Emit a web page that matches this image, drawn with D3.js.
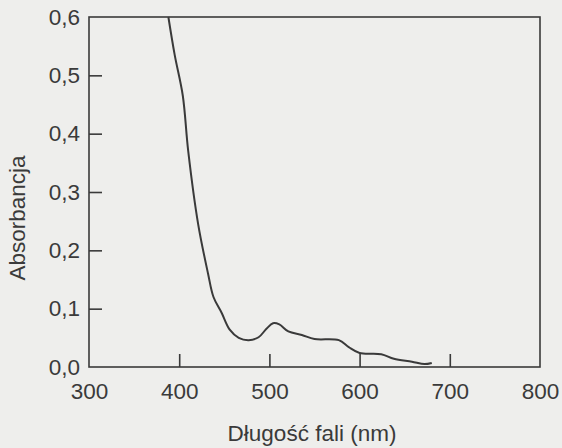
<!DOCTYPE html>
<html><head><meta charset="utf-8">
<script src="https://cdn.jsdelivr.net/npm/d3@7"></script>
<style>body{margin:0;background:#eeeeec;}svg{display:block;}</style>
</head><body>
<svg id="c" width="562" height="448"></svg>
<script>
const wavelength = [388, 395, 404, 410, 421, 432, 438, 447, 456, 466, 477, 488, 497, 504, 511, 521, 536, 550, 577, 588, 600, 624, 638, 658, 672, 680];
const absorbance = [0.600, 0.535, 0.465, 0.370, 0.245, 0.160, 0.120, 0.093, 0.064, 0.050, 0.046, 0.051, 0.066, 0.075, 0.073, 0.061, 0.055, 0.048, 0.046, 0.034, 0.024, 0.022, 0.014, 0.009, 0.005, 0.007];
const xTicks = [300, 400, 500, 600, 700, 800];
const yTicks = [0.0, 0.1, 0.2, 0.3, 0.4, 0.5, 0.6];
const xTitle = "Długość fali (nm)";
const yTitle = "Absorbancja";

const svg = d3.select("#c");
const ink = "#3a3a3a";
const font = "'Liberation Sans', Arial, sans-serif";
const fs = "22.5px";
const x = d3.scaleLinear().domain([300, 800]).range([89, 540]);
const y = d3.scaleLinear().domain([0, 0.6]).range([367, 17]);

// frame
svg.append("rect").attr("x", x(300)).attr("y", y(0.6))
  .attr("width", x(800) - x(300)).attr("height", y(0) - y(0.6))
  .attr("fill", "none").attr("stroke", ink).attr("stroke-width", 1.6);

// y axis ticks (inward)
const yAxis = d3.axisRight(y).tickValues(yTicks).tickSize(13)
  .tickFormat(d => d3.format(".1f")(d).replace(".", ","));
const gy = svg.append("g").attr("transform", `translate(${x(300)},0)`).call(yAxis);
gy.select(".domain").remove();
gy.selectAll(".tick line").attr("stroke", ink).attr("stroke-width", 1.6)
  .attr("display", d => (d === 0 || d === 0.6) ? "none" : null);
gy.selectAll(".tick text").attr("x", -9).attr("text-anchor", "end")
  .attr("fill", ink).style("font-family", font).style("font-size", fs);

// x axis ticks (inward)
const xAxis = d3.axisTop(x).tickValues(xTicks).tickSize(13).tickFormat(d3.format("d"));
const gx = svg.append("g").attr("transform", `translate(0,${y(0)})`).call(xAxis);
gx.select(".domain").remove();
gx.selectAll(".tick line").attr("stroke", ink).attr("stroke-width", 1.6)
  .attr("display", d => (d === 300 || d === 800) ? "none" : null);
gx.selectAll(".tick text").attr("y", 32).attr("dy", 0)
  .attr("fill", ink).style("font-family", font).style("font-size", fs);

// curve
const pts = wavelength.map((w, i) => [w, absorbance[i]]);
svg.append("path").datum(pts)
  .attr("d", d3.line().x(d => x(d[0])).y(d => y(d[1])).curve(d3.curveCatmullRom.alpha(0.5)))
  .attr("fill", "none").attr("stroke", ink).attr("stroke-width", 2);

// titles
svg.append("text").attr("x", 312).attr("y", 441).attr("text-anchor", "middle")
  .attr("fill", ink).style("font-family", font).style("font-size", fs).text(xTitle);
svg.append("text").attr("transform", "translate(25,218) rotate(-90)").attr("text-anchor", "middle")
  .attr("fill", ink).style("font-family", font).style("font-size", fs).text(yTitle);
</script>
</body></html>
